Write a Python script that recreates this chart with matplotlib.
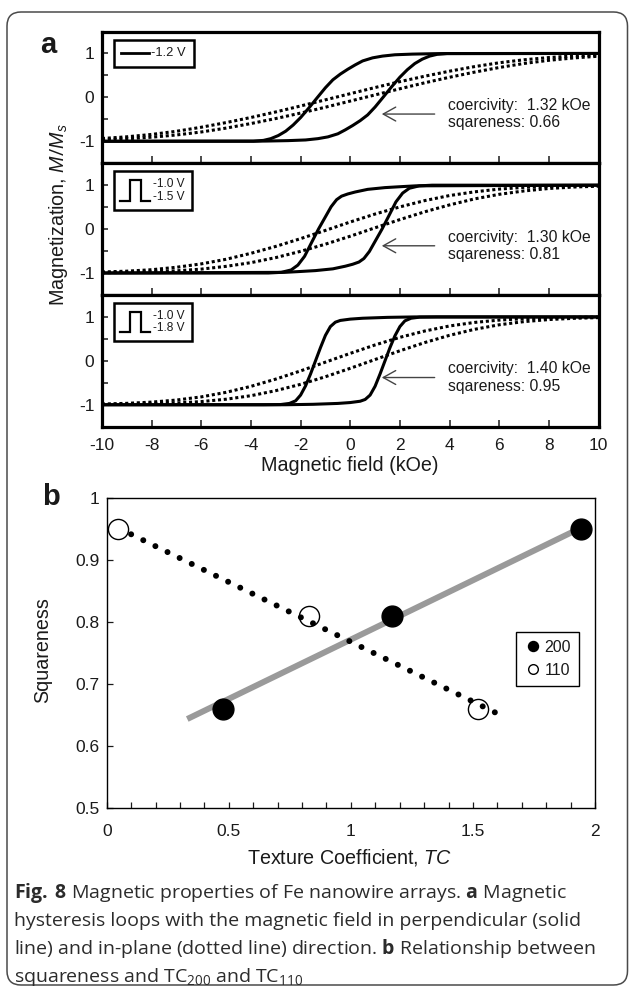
import matplotlib
matplotlib.use("Agg")
import matplotlib.pyplot as plt
from matplotlib.ticker import MultipleLocator, FuncFormatter
from matplotlib.lines import Line2D
from matplotlib.patches import FancyBboxPatch
from matplotlib.transforms import IdentityTransform
from matplotlib.offsetbox import AnchoredOffsetbox, DrawingArea, TextArea, HPacker

plt.rcParams['font.family'] = ['Liberation Sans', 'DejaVu Sans']
plt.rcParams['axes.unicode_minus'] = False
plt.rcParams['mathtext.fontset'] = 'custom'
plt.rcParams['mathtext.rm'] = 'Open Sans'
plt.rcParams['mathtext.it'] = 'Liberation Sans:italic'
plt.rcParams['mathtext.bf'] = 'Open Sans:bold'

# ---------------- data : panel a (hysteresis loops) ----------------
# perpendicular field (solid), ascending and descending branches
p1_perp_up_H = [-10, -3.9, -3.4, -2.5, -1.8, -1.3, -0.9, -0.5, -0.2, 0.1, 0.4, 0.7, 1.0, 1.32, 1.65, 2.0, 2.3, 2.6, 2.9, 3.2, 3.5, 3.9, 10]
p1_perp_up_M = [-1.0, -0.998, -0.995, -0.985, -0.97, -0.94, -0.90, -0.83, -0.74, -0.64, -0.53, -0.40, -0.22, 0.0, 0.23, 0.46, 0.63, 0.77, 0.87, 0.94, 0.98, 0.997, 1.0]
p1_perp_dn_H = [10, 3.9, 3.4, 2.5, 1.8, 1.3, 0.9, 0.5, 0.2, -0.1, -0.4, -0.7, -1.0, -1.32, -1.65, -2.0, -2.3, -2.6, -2.9, -3.2, -3.5, -3.9, -10]
p1_perp_dn_M = [1.0, 0.998, 0.995, 0.985, 0.97, 0.94, 0.90, 0.83, 0.74, 0.64, 0.53, 0.40, 0.22, 0.0, -0.23, -0.46, -0.63, -0.77, -0.87, -0.94, -0.98, -0.997, -1.0]

p2_perp_up_H = [-10, -2.64, -2.0, -1.4, -0.7, -0.2, 0.1, 0.35, 0.55, 0.77, 1.04, 1.28, 1.58, 1.84, 2.11, 2.38, 2.78, 3.3, 10]
p2_perp_up_M = [-1.0, -0.985, -0.965, -0.945, -0.905, -0.845, -0.80, -0.75, -0.67, -0.51, -0.24, 0.0, 0.33, 0.62, 0.82, 0.93, 0.985, 1.0, 1.0]
p2_perp_dn_H = [10, 2.64, 2.0, 1.4, 0.7, 0.2, -0.1, -0.35, -0.55, -0.77, -1.04, -1.28, -1.58, -1.84, -2.11, -2.38, -2.78, -3.3, -10]
p2_perp_dn_M = [1.0, 0.985, 0.965, 0.945, 0.905, 0.845, 0.80, 0.75, 0.67, 0.51, 0.24, 0.0, -0.33, -0.62, -0.82, -0.93, -0.985, -1.0, -1.0]

p3_perp_up_H = [-10, -2.6, -1.5, -0.5, 0.0, 0.4, 0.6, 0.8, 1.0, 1.2, 1.4, 1.6, 1.8, 2.0, 2.2, 2.45, 2.8, 3.5, 10]
p3_perp_up_M = [-1.0, -1.0, -0.99, -0.97, -0.95, -0.92, -0.88, -0.78, -0.58, -0.30, 0.0, 0.30, 0.57, 0.78, 0.91, 0.97, 0.995, 1.0, 1.0]
p3_perp_dn_H = [10, 2.6, 1.5, 0.5, 0.0, -0.4, -0.6, -0.8, -1.0, -1.2, -1.4, -1.6, -1.8, -2.0, -2.2, -2.45, -2.8, -3.5, -10]
p3_perp_dn_M = [1.0, 1.0, 0.99, 0.97, 0.95, 0.92, 0.88, 0.78, 0.58, 0.30, 0.0, -0.30, -0.57, -0.78, -0.91, -0.97, -0.995, -1.0, -1.0]

# in-plane field (dotted), sampled every 1 kOe
inplane_H = [-10, -9, -8, -7, -6, -5, -4, -3, -2, -1, 0, 1, 2, 3, 4, 5, 6, 7, 8, 9, 10]
p1_inpl_up_M = [-0.967, -0.943, -0.907, -0.856, -0.788, -0.70, -0.596, -0.482, -0.358, -0.224, -0.084, 0.056, 0.196, 0.332, 0.458, 0.574, 0.68, 0.772, 0.844, 0.898, 0.937]
p1_inpl_dn_M = [-0.937, -0.898, -0.844, -0.772, -0.68, -0.574, -0.458, -0.332, -0.196, -0.056, 0.084, 0.224, 0.358, 0.482, 0.596, 0.70, 0.788, 0.856, 0.907, 0.943, 0.967]
p2_inpl_up_M = [-0.994, -0.986, -0.972, -0.95, -0.911, -0.848, -0.764, -0.649, -0.506, -0.343, -0.162, 0.03, 0.217, 0.394, 0.551, 0.687, 0.792, 0.869, 0.925, 0.958, 0.977]
p2_inpl_dn_M = [-0.977, -0.958, -0.925, -0.869, -0.792, -0.687, -0.551, -0.394, -0.217, -0.03, 0.162, 0.343, 0.506, 0.649, 0.764, 0.848, 0.911, 0.95, 0.972, 0.986, 0.994]
p3_inpl_up_M = [-0.996, -0.99, -0.979, -0.96, -0.928, -0.874, -0.794, -0.679, -0.535, -0.362, -0.17, 0.03, 0.229, 0.416, 0.581, 0.717, 0.821, 0.893, 0.94, 0.968, 0.984]
p3_inpl_dn_M = [-0.984, -0.968, -0.94, -0.893, -0.821, -0.717, -0.581, -0.416, -0.229, -0.03, 0.17, 0.362, 0.535, 0.679, 0.794, 0.874, 0.928, 0.96, 0.979, 0.99, 0.996]

voltage_labels = ["-1.2 V", "-1.0 V\n-1.5 V", "-1.0 V\n-1.8 V"]
coercivity = ["1.32", "1.30", "1.40"]
squareness_txt = ["0.66", "0.81", "0.95"]

# ---------------- data : panel b ----------------
tc200 = [0.475, 1.167, 1.943]
sq200 = [0.66, 0.81, 0.95]
tc110 = [0.045, 0.827, 1.52]
sq110 = [0.95, 0.81, 0.66]
trend200_x = [0.33, 1.93]
trend200_y = [0.644, 0.950]
trend110_x = [0.10, 1.62]
trend110_y = [0.942, 0.649]

TXT = '#1a1a1a'

fig = plt.figure(figsize=(6.29, 9.89), dpi=100)
W, H = 629.0, 989.0

# outer rounded frame
frame = FancyBboxPatch((7, 4), 620.5, 973, boxstyle="round,pad=0,rounding_size=14",
                       transform=IdentityTransform(), fill=False, edgecolor='#4a4a4a', linewidth=1.1)
fig.patches.append(frame)

gs = fig.add_gridspec(3, 1, left=102/W, right=598.5/W, top=1-31.5/H, bottom=1-426.7/H, hspace=0)
axs = [fig.add_subplot(gs[i]) for i in range(3)]

perp = [(p1_perp_up_H, p1_perp_up_M, p1_perp_dn_H, p1_perp_dn_M),
        (p2_perp_up_H, p2_perp_up_M, p2_perp_dn_H, p2_perp_dn_M),
        (p3_perp_up_H, p3_perp_up_M, p3_perp_dn_H, p3_perp_dn_M)]
inpl = [(p1_inpl_up_M, p1_inpl_dn_M), (p2_inpl_up_M, p2_inpl_dn_M), (p3_inpl_up_M, p3_inpl_dn_M)]


def solid_legend(label):
    da = DrawingArea(20, 8, 0, 0)
    da.add_artist(Line2D([0, 20], [4, 4], color='black', lw=2.0))
    ta = TextArea(label, textprops=dict(fontsize=9.3, color=TXT))
    return HPacker(children=[da, ta], align='center', pad=0, sep=1.7)


def pulse_legend(label):
    da = DrawingArea(21.6, 15.8, 0, 0)
    da.add_artist(Line2D([0, 6.7, 6.7, 14.9, 14.9, 21.6], [0.6, 0.6, 15.2, 15.2, 0.6, 0.6],
                         color='black', lw=1.6, solid_joinstyle='miter'))
    ta = TextArea(label, textprops=dict(fontsize=8.6, color=TXT, linespacing=1.05))
    return HPacker(children=[da, ta], align='center', pad=0, sep=2)


for i, ax in enumerate(axs):
    uh, um, dh, dm = perp[i]
    ax.plot(uh, um, color='black', lw=2.2, solid_joinstyle='round', zorder=3)
    ax.plot(dh, dm, color='black', lw=2.2, solid_joinstyle='round', zorder=3)
    iu, idn = inpl[i]
    ax.plot(inplane_H, iu, color='black', lw=2.2, linestyle=(0, (1, 0.9)), zorder=2)
    ax.plot(inplane_H, idn, color='black', lw=2.2, linestyle=(0, (1, 0.9)), zorder=2)
    ax.set_xlim(-10, 10)
    ax.set_ylim(-1.5, 1.5)
    ax.xaxis.set_major_locator(MultipleLocator(2))
    ax.set_yticks([-1, 0, 1])
    ax.set_yticks([-0.5, 0.5], minor=True)
    ax.tick_params(axis='x', direction='in', length=5, width=1.1, top=False, labelsize=12.5,
                   pad=8, colors=TXT)
    ax.tick_params(axis='y', which='both', direction='in', length=4, width=1.1, right=False,
                   labelsize=12.5, pad=5.5, colors=TXT)
    ax.xaxis.set_major_formatter(FuncFormatter(lambda v, p: '%d' % v))
    if i < 2:
        ax.tick_params(axis='x', labelbottom=False)
    for s in ax.spines.values():
        s.set_linewidth(2.3)
        s.set_color('black')
    child = solid_legend(voltage_labels[i]) if i == 0 else pulse_legend(voltage_labels[i])
    box = AnchoredOffsetbox(loc='upper left', child=child, pad=0.55 if i == 0 else 0.5, borderpad=0,
                            frameon=True, bbox_to_anchor=(11.5/496.5, 1-8/131.7),
                            bbox_transform=ax.transAxes)
    box.patch.set_linewidth(1.8)
    box.patch.set_edgecolor('black')
    box.patch.set_boxstyle('square', pad=0)
    ax.add_artist(box)
    ax.annotate('', xy=(1.27, -0.38), xytext=(3.4, -0.38),
                arrowprops=dict(arrowstyle='->,head_length=0.9,head_width=0.5', lw=1.0, color='#444444',
                                shrinkA=0, shrinkB=0))
    ax.text(3.92, -0.18, 'coercivity:  %s kOe' % coercivity[i], fontsize=11.3, color=TXT, va='center', ha='left')
    ax.text(3.92, -0.58, 'sqareness: %s' % squareness_txt[i], fontsize=11.3, color=TXT, va='center', ha='left')

fig.text(350/W, 1-466/H, 'Magnetic field (kOe)', fontsize=14.2, color=TXT, ha='center', va='center')
fig.text(58/W, 1-215/H, r'Magnetization, $M/M_s$', fontsize=14.2, color=TXT, ha='center', va='center',
         rotation=90)
fig.text(48/W, 1-45/H, 'a', fontsize=21, fontweight='bold', color=TXT, ha='center', va='center')

# ---------------- panel b ----------------
axb = fig.add_axes([106.7/W, 1-808.3/H, (595-106.7)/W, (808.3-498.3)/H])
axb.plot(trend200_x, trend200_y, color='#9a9a9a', lw=4.3, solid_capstyle='butt', zorder=2)
axb.plot(tc110, sq110, linestyle='none', marker='o', ms=14.5, mfc='white', mec='black', mew=1.0, zorder=3,
         label='110')
axb.plot(trend110_x, trend110_y, color='black', lw=4.3, linestyle=(0, (0.01, 2.25)),
         dash_capstyle='round', zorder=4)
axb.plot(tc200, sq200, linestyle='none', marker='o', ms=15, mfc='black', mec='black', zorder=5, label='200')
axb.set_xlim(0, 2)
axb.set_ylim(0.5, 1.0)
axb.xaxis.set_major_locator(MultipleLocator(0.5))
axb.xaxis.set_minor_locator(MultipleLocator(0.1))
axb.yaxis.set_major_locator(MultipleLocator(0.1))
fmt = FuncFormatter(lambda v, p: '%g' % round(v, 2))
axb.xaxis.set_major_formatter(fmt)
axb.yaxis.set_major_formatter(fmt)
axb.tick_params(axis='x', which='both', direction='in', length=4.5, width=0.9, top=False, labelsize=12.5,
                pad=11, colors=TXT)
axb.tick_params(axis='y', which='both', direction='in', length=4.2, width=0.9, right=False, labelsize=12.5,
                pad=5, colors=TXT)
for s in axb.spines.values():
    s.set_linewidth(1.0)
    s.set_color('black')
h, l = axb.get_legend_handles_labels()
order = [l.index('200'), l.index('110')]
leg = axb.legend([h[k] for k in order], [l[k] for k in order], loc='upper right',
                 bbox_to_anchor=(1-16/488.3, 1-133.4/310), borderaxespad=0, fontsize=11.5,
                 markerscale=0.48, handlelength=1.2, handletextpad=0.1, borderpad=0.5,
                 labelspacing=0.5, fancybox=False, framealpha=1, edgecolor='black')
leg.get_frame().set_linewidth(1.0)
for t in leg.get_texts():
    t.set_color(TXT)

fig.text(350/W, 1-857.5/H, r'Texture Coefficient, $TC$', fontsize=14.2, color=TXT, ha='center', va='center')
fig.text(43/W, 1-650/H, 'Squareness', fontsize=14.2, color=TXT, ha='center', va='center', rotation=90)
fig.text(51/W, 1-497/H, 'b', fontsize=21, fontweight='bold', color=TXT, ha='center', va='center')

# ---------------- caption ----------------
CAP = '#2b2b2b'
cap_lines = [r'$\mathbf{Fig.\;8}$ Magnetic properties of Fe nanowire arrays. $\mathbf{a}$ Magnetic',
             'hysteresis loops with the magnetic field in perpendicular (solid',
             r'line) and in-plane (dotted line) direction. $\mathbf{b}$ Relationship between',
             r'squareness and TC$_{200}$ and TC$_{110}$']
cap_y = [893, 921, 949, 977]
for txt, yy in zip(cap_lines, cap_y):
    fig.text(14/W, 1-yy/H, txt, fontsize=14, family='Open Sans', color=CAP, ha='left', va='center')

fig.savefig('out.png', dpi=100)
